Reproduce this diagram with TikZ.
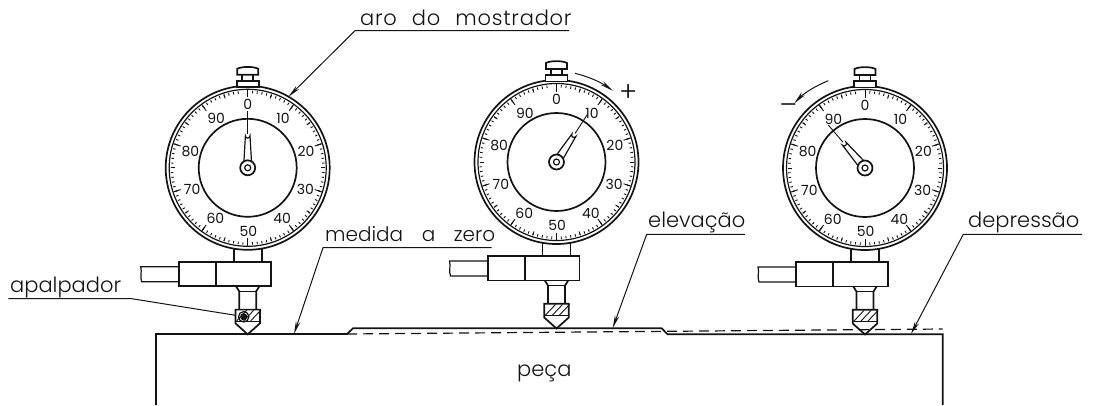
\documentclass[tikz,border=0pt]{standalone}
\usepackage{fontspec}
\usetikzlibrary{arrows.meta}
\setmainfont{Poppins Light}
\newfontfamily\numfont{Poppins}
\newfontfamily\arofont[LetterSpace=3.6,WordSpace=2.3]{Poppins Light}
\newfontfamily\medfont[WordSpace=3.4]{Poppins Light}
\definecolor{ink}{HTML}{141414}
\tikzset{
  heavy/.style={line width=1.7pt,draw=ink},
  medium/.style={line width=1.2pt,draw=ink},
  thin line/.style={line width=.9pt,draw=ink},
  leader/.style={line width=1pt,draw=ink,-{Stealth[length=13pt,width=4.5pt]}},
  lab/.style={font=\fontsize{21}{22}\selectfont,text=ink,inner sep=0pt,anchor=base west},
  num/.style={font=\numfont\fontsize{14}{15}\selectfont,text=ink,inner sep=0pt},
}
\newcommand{\gauge}[5]{%
\begin{scope}[shift={(#2,#3)}]
  \draw[heavy] (0,0) circle[radius=82];
  \draw[medium] (0,0) circle[radius=78.5];
  \draw[heavy] (0,0) circle[radius=49];
  \foreach \a in {0,3.6,...,356} {\draw[thin line] (\a-90:77) -- (\a-90:74.5);}
  \foreach \a in {0,18,...,350} {\draw[thin line] (\a-90:77) -- (\a-90:73);}
  \foreach \a in {0,36,...,350} {\draw[thin line] (\a-90:78) -- (\a-90:70.5);}
  \draw[heavy,fill=white] (-11,-80.5) rectangle (11,-87);
  \draw[heavy] (-5.5,-87) -- (-5.5,-93) (5.5,-87) -- (5.5,-93);
  \draw[heavy,fill=white] (-10.5,-93) -- (-10.5,-99) .. controls (-6,-101.5) and (6,-101.5) .. (10.5,-99) -- (10.5,-93) -- cycle;
  \foreach \t/\dx/\dy in {0/0/-63,10/35.4/-49,20/58.4/-16.3,30/57.7/22,40/34.4/51,50/.7/63.7,60/-32.3/51,70/-55.6/22,80/-57.3/-16.3,90/-31.6/-49}
    {\node[num] (#1n\t) at (\dx,\dy) {\t};}
  \begin{scope}[rotate=-#4]
    \draw[medium,fill=white] (-3.8,-6) -- (-2.3,-32) arc[start angle=180,end angle=0,radius=2.3] -- (3.8,-6) -- cycle;
    \draw[thin line] (0,-34) -- (0,-56.5);
  \end{scope}
  \draw[heavy,fill=white] (0,0) circle[radius=7.5];
  \draw[medium] (0,0) circle[radius=3];
  \draw[heavy] (-14,81) -- (-14,94) (14,81) -- (14,94);
  \draw[heavy,fill=white] (-68.7,94) rectangle (23,118.5);
  \draw[heavy] (-31.7,94) -- (-31.7,118.5);
  \draw[medium] (-68.7,99) -- (-107,99) .. controls (-105.5,104) and (-108,109) .. (-106,114) -- (-68.7,114);
  \draw[heavy] (-11.7,118.5) -- (-8.5,123.5) -- (-8.5,141.8);
  \draw[heavy] (11.7,118.5) -- (8.5,123.5) -- (8.5,141.8);
  \draw[medium] (-8.5,123.5) -- (8.5,123.5);
  \draw[heavy,fill=white] (-12.3,141.8) -- (12.3,141.8) -- (12.3,155.5) -- (0,166.5) -- (-12.3,155.5) -- cycle;
  \draw[medium] (-12.3,153.5) -- (12.3,153.5);
  \foreach \h in {-9,-2,5} {\draw[thin line] (\h-2,153) -- (\h+8,142.5);}
  #5
\end{scope}}
\begin{document}
\begin{tikzpicture}[x=1pt,y=-1pt]
\useasboundingbox (0,0) rectangle (1094,405);
\fill[white] (0,0) rectangle (1094,405);

\gauge{a}{247.7}{167.8}{0}{\fill[ink] (-4,149) circle[radius=3.6];\draw[medium] (-4,149) circle[radius=5.2];}
\gauge{b}{556.5}{162}{33}{}
\gauge{c}{865}{168}{-40.5}{}

\coordinate (p1) at (156,405);
\coordinate (p2) at (156,334);
\coordinate (p3) at (347,334);
\coordinate (p4) at (353,328.3);
\coordinate (p5) at (661.7,328.3);
\coordinate (p6) at (667.5,334.3);
\coordinate (p7) at (942.7,334.3);
\coordinate (p8) at (942.7,405);
\draw[heavy] (p1) -- (p2) -- (p3) -- (p4) -- (p5) -- (p6) -- (p7) -- (p8);
\draw[medium,dash pattern=on 10pt off 6pt] (p3) -- (942.7,329);
\node[lab,anchor=base] (peca) at (544.3,376.7) {peça};

\node[lab,font=\arofont\fontsize{21}{22}\selectfont] (aro) at (360,25.7) {aro do mostrador};
\coordinate (aroL) at (355,30.7);
\coordinate (aroR) at (569,30.7);
\coordinate (aroT) at (288.5,96.7);
\draw[leader] (aroR) -- (aroL) -- (aroT);

\node[lab,font=\medfont\fontsize{20}{21}\selectfont] (med) at (325,241.7) {medida a zero};
\coordinate (medL) at (323,247.7);
\coordinate (medR) at (491.7,247.7);
\coordinate (medT) at (294,334);
\draw[leader] (medR) -- (medL) -- (medT);

\node[lab] (ele) at (648,227.3) {elevação};
\coordinate (eleL) at (646.7,234.3);
\coordinate (eleR) at (745,234.3);
\coordinate (eleT) at (612.7,328);
\draw[leader] (eleR) -- (eleL) -- (eleT);

\node[lab] (dep) at (968,227.3) {depressão};
\coordinate (depL) at (963.3,234.3);
\coordinate (depR) at (1082,234.3);
\coordinate (depT) at (911,334);
\draw[leader] (depR) -- (depL) -- (depT);

\node[lab] (apa) at (10,292.5) {apalpador};
\coordinate (apaL) at (8.3,298.7);
\coordinate (apaM) at (131.7,298.7);
\coordinate (apaT) at (235.7,315.3);
\draw[line width=1pt,draw=ink] (apaL) -- (apaM) -- (apaT);

\coordinate (plusA) at (575,73.3);
\coordinate (plusB) at (612.7,90.7);
\draw[leader] (plusA) .. controls (590,77) and (602,83) .. (plusB);
\node[lab,anchor=center,font=\fontsize{27}{28}\selectfont] (plus) at (628.3,93) {+};
\coordinate (minA) at (828.3,80.7);
\coordinate (minB) at (794.3,103.3);
\draw[leader] (minA) .. controls (815,86) and (803,94) .. (minB);
\node[lab,anchor=center,font=\fontsize{27}{28}\selectfont] (minus) at (788.3,109) {–};
\end{tikzpicture}
\end{document}
